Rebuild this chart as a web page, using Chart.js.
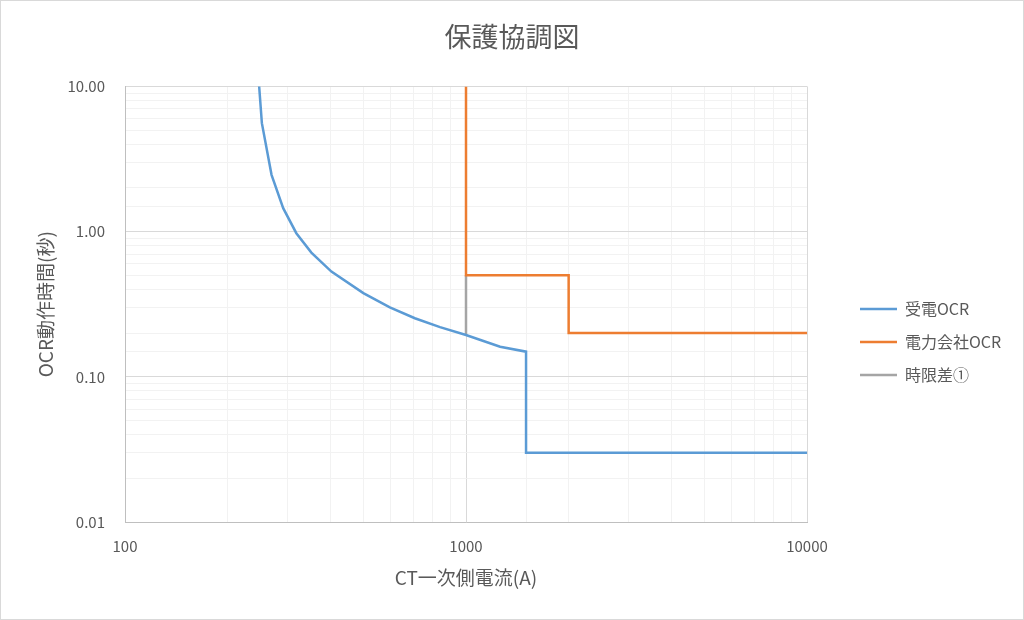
<!DOCTYPE html>
<html lang="ja">
<head>
<meta charset="utf-8">
<title>保護協調図</title>
<script src="https://cdn.jsdelivr.net/npm/chart.js@4/dist/chart.umd.min.js"></script>
<style>
  html, body { margin: 0; padding: 0; background: #fff; }
  #wrap { position: relative; width: 1024px; height: 620px; }
  #grafico { display: block; }
  #marco { position: absolute; left: 0; top: 0; right: 0; bottom: 0; border: 1px solid #d9d9d9; pointer-events: none; }
</style>
</head>
<body>
<div id="wrap"><canvas id="grafico" width="1024" height="620"></canvas><div id="marco"></div></div>
<script>
// 受電OCR (CT一次側電流 A / 動作時間 秒)
const ocrCurrent = [246, 252, 269, 291, 318, 352, 403, 500, 598, 708, 839, 1000, 1259, 1500, 1500, 10000];
const ocrTime = [12, 5.58, 2.46, 1.45, 0.975, 0.717, 0.53, 0.377, 0.301, 0.253, 0.22, 0.194, 0.161, 0.149, 0.03, 0.03];

// 電力会社OCR
const utilCurrent = [1000, 1000, 2000, 2000, 10000];
const utilTime = [10, 0.5, 0.5, 0.2, 0.2];

// 時限差①
const gapCurrent = [1000, 1000];
const gapTime = [0.5, 0.194];

const xTickValues = [100, 1000, 10000];
const xTickLabels = ['100', '1000', '10000'];
const yTickValues = [0.01, 0.1, 1, 10];
const yTickLabels = ['0.01', '0.10', '1.00', '10.00'];

const FONT = "'Noto Sans CJK JP', 'Noto Sans', sans-serif";
const TEXT = '#595959';

function toPoints(xs, ys) {
  return xs.map((x, i) => ({ x: x, y: ys[i] }));
}

function isPow10(v) {
  const l = Math.log10(v);
  return Math.abs(l - Math.round(l)) < 1e-9;
}

function tickLabel(values, labels) {
  return function (value) {
    const i = values.findIndex(v => Math.abs(v - value) / v < 1e-6);
    return i >= 0 ? labels[i] : '';
  };
}

function gridColor(ctx) {
  return ctx.tick && isPow10(ctx.tick.value) ? '#d9d9d9' : '#f2f2f2';
}

// leyenda: ancho fijo y posicion como en Excel
const legendPlace = {
  id: 'legendPlace',
  beforeLayout(chart) {
    const lg = chart.legend;
    if (lg && !lg._anchoFijo) {
      const fit = lg.fit;
      lg.fit = function () {
        fit.call(this);
        this.width = 217;
      };
      lg._anchoFijo = true;
    }
  },
  afterLayout(chart) {
    const lg = chart.legend;
    const w = lg.right - lg.left;
    const h = lg.bottom - lg.top;
    lg.left = 843;
    lg.right = lg.left + w;
    lg.top = 284;
    lg.bottom = lg.top + h;
  }
};

const canvaGrafico = document.getElementById('grafico');

new Chart(canvaGrafico, {
  type: 'scatter',
  data: {
    datasets: [{
      label: '受電OCR',
      data: toPoints(ocrCurrent, ocrTime),
      borderColor: '#5b9bd5',
      backgroundColor: '#5b9bd5',
      borderWidth: 2.5,
      showLine: true,
      pointRadius: 0,
      tension: 0
    }, {
      label: '電力会社OCR',
      data: toPoints(utilCurrent, utilTime),
      borderColor: '#ed7d31',
      backgroundColor: '#ed7d31',
      borderWidth: 2.5,
      showLine: true,
      pointRadius: 0,
      tension: 0
    }, {
      label: '時限差①',
      data: toPoints(gapCurrent, gapTime),
      borderColor: '#a5a5a5',
      backgroundColor: '#a5a5a5',
      borderWidth: 2.5,
      showLine: true,
      pointRadius: 0,
      tension: 0
    }]
  },
  options: {
    responsive: false,
    animation: false,
    devicePixelRatio: 1,
    layout: { padding: 0 },
    plugins: {
      title: {
        display: true,
        text: '保護協調図',
        color: TEXT,
        font: { family: FONT, size: 27, weight: 'normal' },
        padding: { top: 21, bottom: 33 }
      },
      legend: {
        display: true,
        position: 'right',
        align: 'start',
        labels: {
          color: TEXT,
          font: { family: FONT, size: 16 },
          usePointStyle: true,
          pointStyle: 'line',
          pointStyleWidth: 37,
          padding: 17
        }
      },
      tooltip: { enabled: false }
    },
    scales: {
      x: {
        type: 'logarithmic',
        min: 100,
        max: 10000,
        afterFit(scale) { scale.height = 98; },
        title: {
          display: true,
          text: 'CT一次側電流(A)',
          color: TEXT,
          font: { family: FONT, size: 19 },
          padding: { top: 0, bottom: 31 }
        },
        grid: { color: gridColor, drawTicks: false, lineWidth: 1 },
        border: { color: '#bfbfbf', width: 1 },
        ticks: {
          autoSkip: false,
          maxRotation: 0,
          padding: 15,
          color: TEXT,
          font: { family: FONT, size: 15 },
          callback: tickLabel(xTickValues, xTickLabels)
        }
      },
      y: {
        type: 'logarithmic',
        min: 0.01,
        max: 10,
        afterFit(scale) { scale.width = 125; },
        title: {
          display: true,
          text: 'OCR動作時間(秒)',
          color: TEXT,
          font: { family: FONT, size: 19 },
          padding: { top: 34, bottom: 0 }
        },
        grid: { color: gridColor, drawTicks: false, lineWidth: 1 },
        border: { color: '#bfbfbf', width: 1 },
        ticks: {
          autoSkip: false,
          padding: 20,
          color: TEXT,
          font: { family: FONT, size: 15 },
          callback: tickLabel(yTickValues, yTickLabels)
        }
      }
    }
  },
  plugins: [legendPlace]
});
</script>
</body>
</html>
